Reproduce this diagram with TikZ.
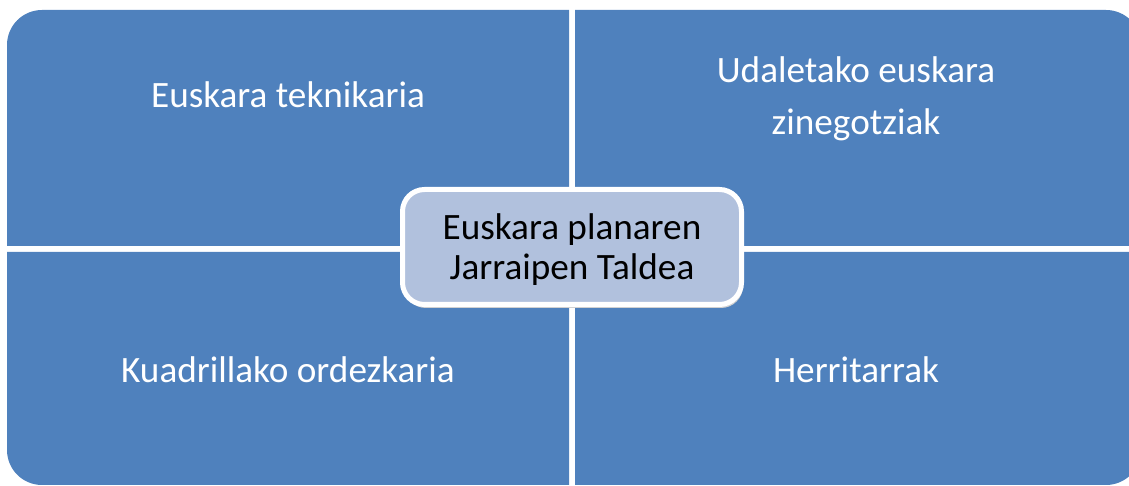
\documentclass[tikz,border=0pt]{standalone}
\usepackage{fontspec}
\setmainfont{Carlito}
\definecolor{panelblue}{HTML}{4F81BD}
\definecolor{centerfill}{HTML}{B1C1DD}
\tikzset{
  panel/.style={fill=panelblue},
  paneltext/.style={text=white, font=\fontsize{37.2}{44}\selectfont, anchor=base, inner sep=0pt},
  centerbox/.style={draw=white, line width=5pt, fill=centerfill, rounded corners=22pt,
    minimum width=339pt, minimum height=115pt, inner sep=0pt},
  centertext/.style={text=black, font=\fontsize{37.2}{40}\selectfont, anchor=base, inner sep=0pt}
}
\begin{document}
\begin{tikzpicture}[x=1pt,y=1pt]
\useasboundingbox (0,0) rectangle (1129,486);
\clip (0,0) rectangle (1129,486);
% quadrants
\fill[panel] (7,240) -- (7,441) arc[start angle=180,end angle=90,radius=35] -- (569,476) -- (569,240) -- cycle;
\fill[panel] (575,240) -- (575,476) -- (1106,476) arc[start angle=90,end angle=0,radius=35] -- (1141,240) -- cycle;
\fill[panel] (7,234) -- (7,36) arc[start angle=180,end angle=270,radius=35] -- (569,1) -- (569,234) -- cycle;
\fill[panel] (575,234) -- (575,1) -- (1106,1) arc[start angle=270,end angle=360,radius=35] -- (1141,234) -- cycle;
% quadrant texts
\node[paneltext] (tl) at (288,378) {Euskara teknikaria};
\node[paneltext] (tr1) at (856,403) {Udaletako euskara};
\node[paneltext] (tr2) at (856,351) {zinegotziak};
\node[paneltext] (bl) at (288,103) {Kuadrillako ordezkaria};
\node[paneltext] (br) at (856,103) {Herritarrak};
% center
\fill[black!18, rounded corners=22pt] (404,178) rectangle (743,293);
\node[centerbox] (c) at (572,239) {};
\node[centertext] (c1) at (572,246) {Euskara planaren};
\node[centertext] (c2) at (572,206) {Jarraipen Taldea};
\end{tikzpicture}
\end{document}
